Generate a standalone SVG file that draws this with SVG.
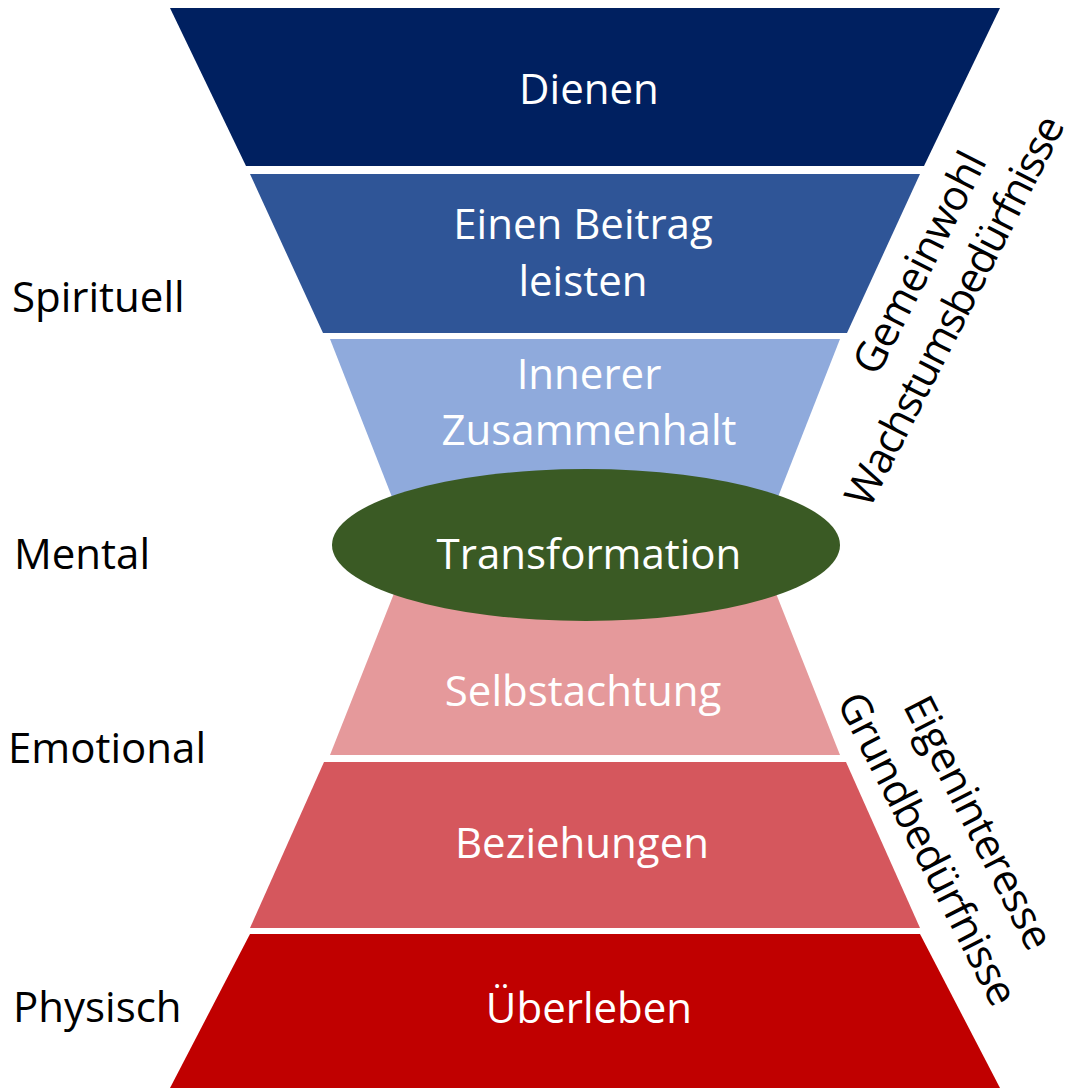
<svg xmlns="http://www.w3.org/2000/svg" width="1076" height="1088" viewBox="0 0 1076 1088">
<style>
.lbl{font-family:"Open Sans","Liberation Sans",sans-serif;font-size:42px;fill:#ffffff;text-anchor:middle}
.side{font-family:"Open Sans","Liberation Sans",sans-serif;font-size:42px;fill:#000000}
.rot{font-family:"Open Sans","Liberation Sans",sans-serif;font-size:42px;fill:#000000;text-anchor:middle}
</style>
<rect width="1076" height="1088" fill="#ffffff"/>
<g id="dienen">
<polygon points="170,8 1000,8 924,166 246,166" fill="#002060"/>
<text class="lbl" x="589" y="104">Dienen</text>
</g>
<g id="beitrag">
<polygon points="250,174 920,174 847,333 323,333" fill="#2F5597"/>
<text class="lbl" x="583" y="239">Einen Beitrag</text>
<text class="lbl" x="583" y="296">leisten</text>
</g>
<g id="innerer">
<polygon points="330,339 840,339 758,548 412,548" fill="#8FAADC"/>
<text class="lbl" x="589" y="389">Innerer</text>
<text class="lbl" x="589" y="445">Zusammenhalt</text>
</g>
<g id="selbstachtung">
<polygon points="412,548 758,548 840,755 330,755" fill="#E5999B"/>
<text class="lbl" x="583" y="706">Selbstachtung</text>
</g>
<g id="beziehungen">
<polygon points="324,762 846,762 920,928 250,928" fill="#D5575D"/>
<text class="lbl" x="582" y="858">Beziehungen</text>
</g>
<g id="ueberleben">
<polygon points="250,934 920,934 1000,1088 170,1088" fill="#C00000"/>
<text class="lbl" x="589" y="1023">Überleben</text>
</g>
<g id="transformation">
<ellipse cx="586" cy="545" rx="254" ry="76" fill="#3A5A24"/>
<text class="lbl" x="589" y="569">Transformation</text>
</g>
<g id="side-labels">
<text class="side" x="12" y="312">Spirituell</text>
<text class="side" x="14" y="569">Mental</text>
<text class="side" x="8" y="763">Emotional</text>
<text class="side" x="13" y="1022">Physisch</text>
</g>
<g id="upper-labels">
<text class="rot" transform="translate(920,263) rotate(-63)" y="14" textLength="243">Gemeinwohl</text>
<text class="rot" transform="translate(955,311) rotate(-63)" y="14" textLength="432">Wachstumsbedürfnisse</text>
</g>
<g id="lower-labels">
<text class="rot" transform="translate(978,823) rotate(63)" y="14" textLength="278">Eigeninteresse</text>
<text class="rot" transform="translate(927,849) rotate(63)" y="14" textLength="345">Grundbedürfnisse</text>
</g>
<g id="connectors"></g>
</svg>
